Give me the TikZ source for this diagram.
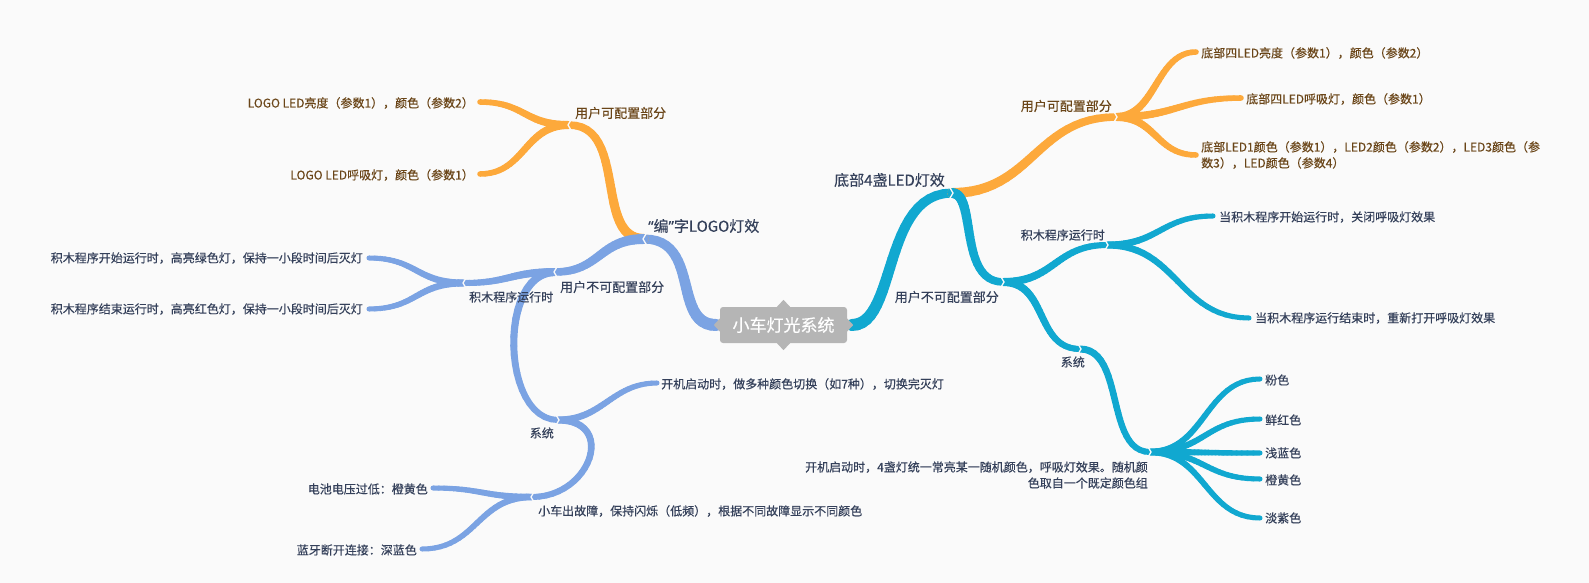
\documentclass[tikz,border=0pt]{standalone}
\usepackage{fontspec}
\newfontfamily\cjk[FakeBold=0.35]{Noto Sans CJK SC}
\newfontfamily\lat[FakeBold=0.35]{Noto Sans}
\usetikzlibrary{calc}
\definecolor{bgc}{HTML}{FAFAFA}
\definecolor{txt}{HTML}{34405A}
\definecolor{brn}{HTML}{6A4518}
\definecolor{org}{HTML}{FDA93B}
\definecolor{blu}{HTML}{7BA3E3}
\definecolor{cyn}{HTML}{11A8D0}
\definecolor{boxg}{HTML}{B5B5B5}
\newcommand\mmpt[5]{\pgfpointcurveattime{#1}{\pgfpointanchor{#2}{center}}{\pgfpointadd{\pgfpointanchor{#2}{center}}{\pgfpoint{#4pt}{0pt}}}{\pgfpointadd{\pgfpointanchor{#3}{center}}{\pgfpoint{#5pt}{0pt}}}{\pgfpointanchor{#3}{center}}}
\newcommand\mmbr[7]{%
  \foreach \mmi in {0,...,23}{%
    \pgfmathsetmacro\mmta{\mmi/24}%
    \pgfmathsetmacro\mmtb{(\mmi+1)/24}%
    \pgfmathsetmacro\mmw{#6+(#7-#6)*(\mmi+0.5)/24}%
    \begin{pgfscope}%
      \pgfsetcolor{#1}%
      \pgfsetroundcap
      \pgfsetlinewidth{\mmw pt}%
      \pgfpathmoveto{\mmpt{\mmta}{#2}{#3}{#4}{#5}}%
      \pgfpathlineto{\mmpt{\mmtb}{#2}{#3}{#4}{#5}}%
      \pgfusepath{stroke}%
    \end{pgfscope}%
  }%
}
\tikzset{
  leaftxt/.style={font={\cjk\fontsize{12}{16}\selectfont}, text=txt, inner sep=0pt},
  leafbrn/.style={leaftxt, text=brn},
  subtxt/.style={font={\cjk\fontsize{13}{16}\selectfont}, text=txt, inner sep=0pt},
  subbrn/.style={subtxt, text=brn},
  toptxt/.style={font={\cjk\fontsize{15}{18}\selectfont}, text=txt, inner sep=0pt},
  centerbox/.style={font={\cjk\fontsize{17}{20}\selectfont}, text=white, fill=boxg,
    rounded corners=3pt, minimum width=127pt, minimum height=36pt, inner sep=0pt},
  notch/.style={draw=bgc, line width=1.3pt}
}
\newcommand\notchL[1]{\draw[notch] ($(#1)+(2.5,-6)$) -- ($(#1)+(-1,0)$) -- ($(#1)+(2.5,6)$);}
\newcommand\notchR[1]{\draw[notch] ($(#1)+(-2.5,-6)$) -- ($(#1)+(1,0)$) -- ($(#1)+(-2.5,6)$);}
\begin{document}
\begin{tikzpicture}[x=1pt,y=-1pt]
\fill[bgc] (0,0) rectangle (1589,583);
\useasboundingbox (0,0) rectangle (1589,583);

% ---------- junction / end coordinates ----------
\coordinate (cL) at (716,325);
\coordinate (cR) at (852,325);
\coordinate (j-logo) at (644,239);
\coordinate (j-lc) at (569,125);
\coordinate (e-l1) at (480,102);
\coordinate (e-l2) at (480,174);
\coordinate (j-lnc) at (555,272);
\coordinate (j-lrun) at (464,283);
\coordinate (e-lr1) at (369,258);
\coordinate (e-lr2) at (369,309);
\coordinate (j-lsys) at (558,420);
\coordinate (e-lboot) at (657,383);
\coordinate (j-lfault) at (532,497);
\coordinate (e-bat) at (433,488);
\coordinate (e-bt) at (422,549);

\coordinate (j-bot) at (952,193);
\coordinate (j-rc) at (1116,117);
\coordinate (e-r1) at (1196,52);
\coordinate (e-r2) at (1241,98);
\coordinate (e-r3) at (1196,155);
\coordinate (j-rnc) at (1003,282);
\coordinate (j-rrun) at (1107,245);
\coordinate (e-rr1) at (1213,216);
\coordinate (e-rr2) at (1249,318);
\coordinate (j-rsys) at (1080,349);
\coordinate (j-rboot) at (1150,452);
\coordinate (e-c1) at (1260,379);
\coordinate (e-c2) at (1260,419);
\coordinate (e-c3) at (1260,453);
\coordinate (e-c4) at (1260,479);
\coordinate (e-c5) at (1260,518);

% ---------- branches (left) ----------
\mmbr{blu}{cL}{j-logo}{-44}{57}{12}{9}
\mmbr{org}{j-logo}{j-lc}{-50}{59}{10}{7.5}
\mmbr{org}{j-lc}{e-l1}{-45}{45}{8}{5.5}
\mmbr{org}{j-lc}{e-l2}{-45}{45}{8}{5.5}
\mmbr{blu}{j-logo}{j-lnc}{-45}{45}{10}{7.5}
\mmbr{blu}{j-lnc}{j-lrun}{-45}{45}{8}{6}
\mmbr{blu}{j-lrun}{e-lr1}{-48}{48}{7}{5}
\mmbr{blu}{j-lrun}{e-lr2}{-48}{48}{7}{5}
\mmbr{blu}{j-lnc}{j-lsys}{-57}{-57}{8}{6}
\mmbr{blu}{j-lsys}{e-lboot}{45}{-45}{7}{5}
\mmbr{blu}{j-lsys}{j-lfault}{59}{59}{7}{6}
\mmbr{blu}{j-lfault}{e-bat}{-48}{48}{6.5}{5}
\mmbr{blu}{j-lfault}{e-bt}{-55}{55}{6.5}{5}

% ---------- branches (right) ----------
\mmbr{cyn}{cR}{j-bot}{45}{-70}{12}{9}
\mmbr{org}{j-bot}{j-rc}{80}{-80}{10}{7.5}
\mmbr{org}{j-rc}{e-r1}{40}{-40}{8}{5.5}
\mmbr{org}{j-rc}{e-r2}{60}{-60}{8}{5.5}
\mmbr{org}{j-rc}{e-r3}{40}{-40}{8}{5.5}
\mmbr{cyn}{j-bot}{j-rnc}{25}{-45}{10}{7.5}
\mmbr{cyn}{j-rnc}{j-rrun}{52}{-52}{8}{6}
\mmbr{cyn}{j-rrun}{e-rr1}{52}{-52}{7}{5}
\mmbr{cyn}{j-rrun}{e-rr2}{70}{-70}{7}{5}
\mmbr{cyn}{j-rnc}{j-rsys}{45}{-45}{8}{6}
\mmbr{cyn}{j-rsys}{j-rboot}{45}{-45}{7}{6}
\mmbr{cyn}{j-rboot}{e-c1}{55}{-55}{6.5}{5}
\mmbr{cyn}{j-rboot}{e-c2}{55}{-55}{6.5}{5}
\mmbr{cyn}{j-rboot}{e-c3}{55}{-55}{6.5}{5}
\mmbr{cyn}{j-rboot}{e-c4}{55}{-55}{6.5}{5}
\mmbr{cyn}{j-rboot}{e-c5}{55}{-55}{6.5}{5}

% ---------- junction notches ----------
\notchL{j-logo}
\notchL{j-lc}
\notchL{j-lnc}
\notchL{j-lrun}
\notchR{j-lsys}
\notchL{j-lfault}
\notchR{j-bot}
\notchR{j-rc}
\notchR{j-rnc}
\notchR{j-rrun}
\notchR{j-rsys}
\notchR{j-rboot}

% ---------- labels (left) ----------
\node[toptxt, anchor=west] (t-logo) at (648,226) {{\lat “}编{\lat ”}字LOGO灯效};
\node[subbrn, anchor=west] (t-lc) at (575,113) {用户可配置部分};
\node[leafbrn, anchor=east] (t-l1) at (474,103) {LOGO LED亮度（参数1），颜色（参数2）};
\node[leafbrn, anchor=east] (t-l2) at (474,175) {LOGO LED呼吸灯，颜色（参数1）};
\node[subtxt, anchor=west] (t-lnc) at (560,287) {用户不可配置部分};
\node[leaftxt, anchor=west] (t-lrun) at (469,297) {积木程序运行时};
\node[leaftxt, anchor=east] (t-lr1) at (363,258) {积木程序开始运行时，高亮绿色灯，保持一小段时间后灭灯};
\node[leaftxt, anchor=east] (t-lr2) at (363,309) {积木程序结束运行时，高亮红色灯，保持一小段时间后灭灯};
\node[leaftxt, anchor=east] (t-lsys) at (554,433) {系统};
\node[leaftxt, anchor=west] (t-lboot) at (661,384) {开机启动时，做多种颜色切换（如7种），切换完灭灯};
\node[leaftxt, anchor=west] (t-lfault) at (538,511) {小车出故障，保持闪烁（低频），根据不同故障显示不同颜色};
\node[leaftxt, anchor=east] (t-bat) at (428,489) {电池电压过低：橙黄色};
\node[leaftxt, anchor=east] (t-bt) at (417,550) {蓝牙断开连接：深蓝色};

% ---------- labels (right) ----------
\node[toptxt, anchor=east] (t-bot) at (945,180) {底部4盏LED灯效};
\node[subbrn, anchor=east] (t-rc) at (1112,106) {用户可配置部分};
\node[leafbrn, anchor=west] (t-r1) at (1201,53) {底部四LED亮度（参数1），颜色（参数2）};
\node[leafbrn, anchor=west] (t-r2) at (1246,99) {底部四LED呼吸灯，颜色（参数1）};
\node[leafbrn, anchor=west, align=left] (t-r3) at (1201,155) {底部LED1颜色（参数1），LED2颜色（参数2），LED3颜色（参\\数3），LED颜色（参数4）};
\node[subtxt, anchor=east] (t-rnc) at (999,297) {用户不可配置部分};
\node[leaftxt, anchor=east] (t-rrun) at (1105,235) {积木程序运行时};
\node[leaftxt, anchor=west] (t-rr1) at (1219,217) {当积木程序开始运行时，关闭呼吸灯效果};
\node[leaftxt, anchor=west] (t-rr2) at (1255,318) {当积木程序运行结束时，重新打开呼吸灯效果};
\node[leaftxt, anchor=east] (t-rsys) at (1085,362) {系统};
\node[leaftxt, anchor=east, align=right] (t-rboot) at (1148,475) {开机启动时，4盏灯统一常亮某一随机颜色，呼吸灯效果。随机颜\\色取自一个既定颜色组};
\node[leaftxt, anchor=west] (t-c1) at (1265,380) {粉色};
\node[leaftxt, anchor=west] (t-c2) at (1265,420) {鲜红色};
\node[leaftxt, anchor=west] (t-c3) at (1265,453) {浅蓝色};
\node[leaftxt, anchor=west] (t-c4) at (1265,480) {橙黄色};
\node[leaftxt, anchor=west] (t-c5) at (1265,518) {淡紫色};

% ---------- central topic ----------
\node[centerbox] (center) at (783.5,325) {小车灯光系统};
\fill[boxg] ($(center.north)+(-7,0.5)$) -- ($(center.north)+(0,-7)$) -- ($(center.north)+(7,0.5)$) -- cycle;
\fill[boxg] ($(center.south)+(-7,-0.5)$) -- ($(center.south)+(0,7)$) -- ($(center.south)+(7,-0.5)$) -- cycle;
\fill[boxg] ($(center.west)+(0.5,-7)$) -- ($(center.west)+(-6,0)$) -- ($(center.west)+(0.5,7)$) -- cycle;
\fill[boxg] ($(center.east)+(-0.5,-7)$) -- ($(center.east)+(6,0)$) -- ($(center.east)+(-0.5,7)$) -- cycle;
\end{tikzpicture}
\end{document}
